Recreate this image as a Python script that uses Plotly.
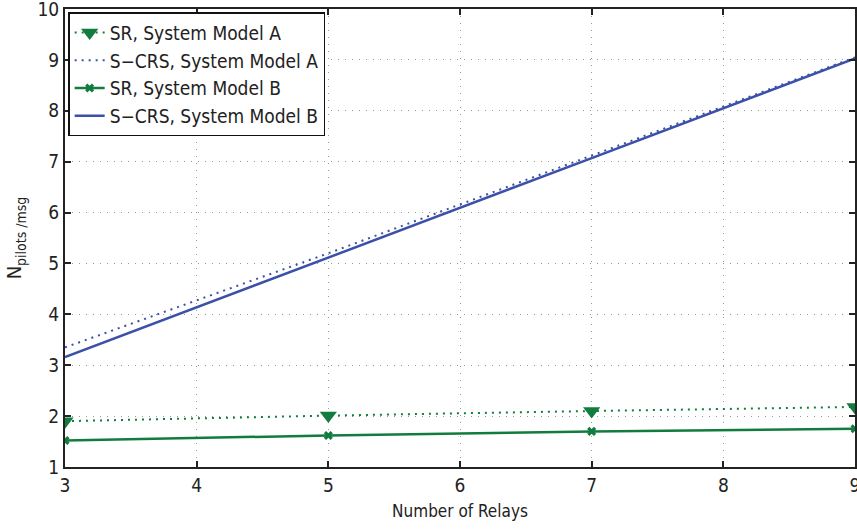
import plotly.graph_objects as go

relays = [3, 5, 7, 9]
sr_a = [1.90, 2.01, 2.10, 2.18]
scrs_a = [3.35, 5.20, 7.12, 9.05]
sr_b = [1.52, 1.62, 1.70, 1.75]
scrs_b = [3.16, 5.11, 7.07, 9.03]

green = "#127c3e"
blue = "#3b50a8"
font = "DejaVu Sans Condensed, Liberation Sans Narrow, sans-serif"

fig = go.Figure()
fig.add_trace(go.Scatter(x=relays, y=sr_a, name="SR, System Model A", mode="lines+markers",
                         line=dict(color=green, width=2, dash="2px,5px"),
                         marker=dict(symbol="triangle-down", size=15, color=green)))
fig.add_trace(go.Scatter(x=relays, y=scrs_a, name="S\u2212CRS, System Model A", mode="lines",
                         line=dict(color=blue, width=2, dash="2px,5px")))
fig.add_trace(go.Scatter(x=relays, y=sr_b, name="SR, System Model B", mode="lines+markers",
                         line=dict(color=green, width=2.5),
                         marker=dict(symbol="x", size=8, color=green)))
fig.add_trace(go.Scatter(x=relays, y=scrs_b, name="S\u2212CRS, System Model B", mode="lines",
                         line=dict(color=blue, width=2.5)))

axis_common = dict(showline=True, linecolor="#222", linewidth=2, mirror="allticks",
                   ticks="inside", ticklen=6, tickcolor="#222", tickwidth=1.5,
                   showgrid=True, gridcolor="#999", griddash="1px,6px", gridwidth=1,
                   zeroline=False, ticklabeloverflow="allow", automargin=False,
                   tickfont=dict(size=19, color="#222", family=font))

fig.update_xaxes(range=[3, 9], dtick=1, **axis_common,
                 title=dict(text="Number of Relays", font=dict(size=17, color="#222", family=font), standoff=10))
fig.update_yaxes(range=[1, 10], dtick=1, **axis_common,
                 title=dict(text="N<sub>pilots /msg</sub>", font=dict(size=20, color="#222", family=font), standoff=10))

fig.update_layout(
    width=857, height=529,
    margin=dict(l=65, r=2, t=9, b=62),
    plot_bgcolor="white", paper_bgcolor="white",
    font=dict(family=font, color="#222"),
    legend=dict(x=0.004, y=0.993, xanchor="left", yanchor="top",
                bgcolor="white", bordercolor="#111", borderwidth=1.5,
                font=dict(size=19, family=font, color="#222"),
                tracegroupgap=0, itemwidth=30),
)

fig.write_html("out.html")
